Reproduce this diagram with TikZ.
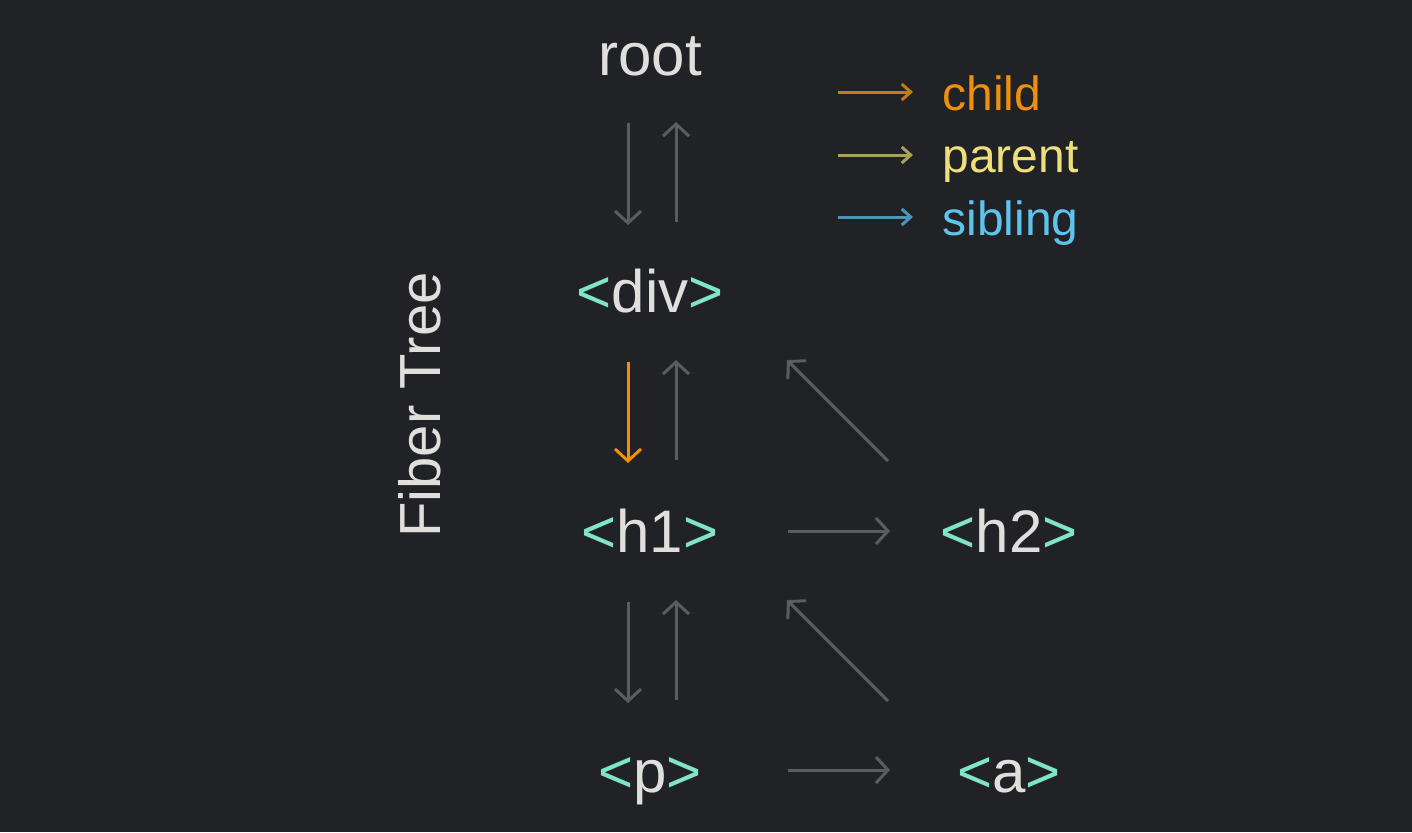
\documentclass[tikz,border=0pt]{standalone}
\usepackage{fontspec}
\setmainfont{Liberation Sans}
\usetikzlibrary{arrows.meta}
\definecolor{bg}{HTML}{212226}
\definecolor{txt}{HTML}{E0DFDB}
\definecolor{mint}{HTML}{7FE5C6}
\definecolor{garr}{HTML}{5B5C5F}
\definecolor{orng}{HTML}{EE900C}
\definecolor{orngarr}{HTML}{C27A1A}
\definecolor{ylw}{HTML}{EDDF7C}
\definecolor{ylwarr}{HTML}{A89F60}
\definecolor{blu}{HTML}{5EC4EE}
\definecolor{bluarr}{HTML}{4E94B8}
\newcommand{\tagtxt}[1]{\textcolor{mint}{<}#1\textcolor{mint}{>}}
\tikzset{
  lbl/.style={anchor=base, inner sep=0pt, text=txt, font=\fontsize{30}{36}\selectfont},
  leg/.style={anchor=base west, inner sep=0pt, font=\fontsize{24}{28}\selectfont},
  garrow/.style={draw=garr, line width=1.5pt, -{Straight Barb[length=6pt,width=13pt]}},
  oarrow/.style={draw=orng, line width=1.5pt, -{Straight Barb[length=6pt,width=13pt]}},
  legarrow/.style={line width=1.5pt, -{Straight Barb[length=4.5pt,width=8pt]}}
}
\begin{document}
\begin{tikzpicture}[x=0.5pt,y=-0.5pt]
\fill[bg] (0,0) rectangle (1412,832);
\useasboundingbox (0,0) rectangle (1412,832);

\node[lbl] (root) at (650,75) {root};
\node[lbl] (div) at (650,312) {\tagtxt{div}};
\node[lbl] (h1) at (650,552) {\tagtxt{h1}};
\node[lbl] (h2) at (1009,552) {\tagtxt{h2}};
\node[lbl] (p) at (650,792) {\tagtxt{p}};
\node[lbl] (a) at (1009,792) {\tagtxt{a}};
\node[lbl, rotate=90, font=\fontsize{29}{34}\selectfont] (title) at (440,405) {Fiber Tree};

\node[leg, text=orng] (lchild) at (942,110) {child};
\node[leg, text=ylw] (lparent) at (942,172) {parent};
\node[leg, text=blu] (lsibling) at (942,235) {sibling};

\draw[legarrow, orngarr] ([shift={(-104,-18)}]lchild.base west) -- ([shift={(-29,-18)}]lchild.base west);
\draw[legarrow, ylwarr] ([shift={(-104,-17)}]lparent.base west) -- ([shift={(-29,-17)}]lparent.base west);
\draw[legarrow, bluarr] ([shift={(-104,-18)}]lsibling.base west) -- ([shift={(-29,-18)}]lsibling.base west);

\draw[garrow] ([shift={(-22,48)}]root.base) -- ([shift={(-22,-87)}]div.base);
\draw[garrow] ([shift={(26,-90)}]div.base) -- ([shift={(26,47)}]root.base);
\draw[oarrow] ([shift={(-22,50)}]div.base) -- ([shift={(-22,-89)}]h1.base);
\draw[garrow] ([shift={(26,-92)}]h1.base) -- ([shift={(26,48)}]div.base);
\draw[garrow] ([shift={(-121,-91)}]h2.base) -- ([shift={(137,48)}]div.base);
\draw[garrow] ([shift={(138,-21)}]h1.base) -- ([shift={(-119,-21)}]h2.base);
\draw[garrow] ([shift={(-22,50)}]h1.base) -- ([shift={(-22,-89)}]p.base);
\draw[garrow] ([shift={(26,-92)}]p.base) -- ([shift={(26,48)}]h1.base);
\draw[garrow] ([shift={(-121,-91)}]a.base) -- ([shift={(137,48)}]h1.base);
\draw[garrow] ([shift={(138,-22)}]p.base) -- ([shift={(-119,-22)}]a.base);
\end{tikzpicture}
\end{document}
